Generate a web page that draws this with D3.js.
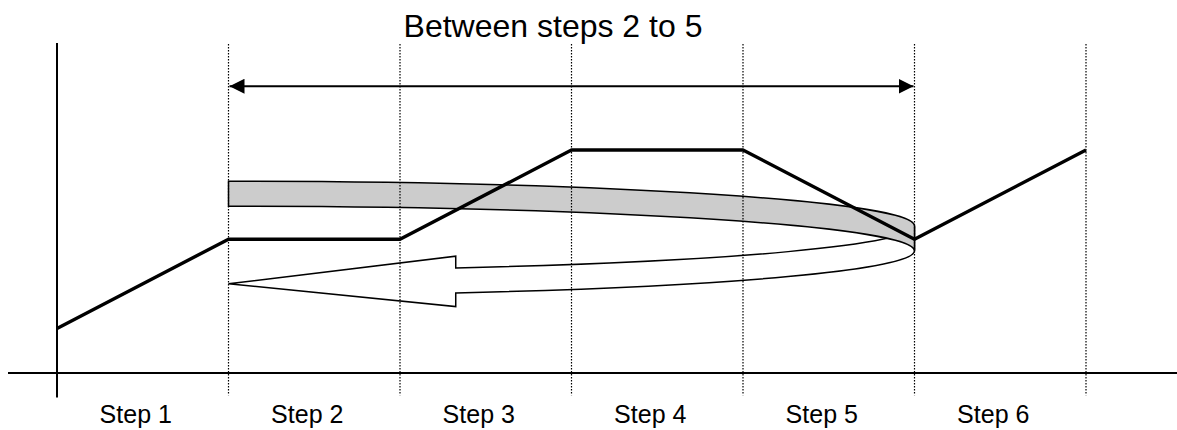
<!DOCTYPE html>
<html>
<head>
<meta charset="utf-8">
<script src="https://cdn.jsdelivr.net/npm/d3@7"></script>
<style>
  body { margin: 0; background: #fff; }
  text { font-family: "Liberation Sans", Arial, sans-serif; fill: #000; }
</style>
</head>
<body>
<div class="chart-section"></div>
<script>
// step labels along the bottom, one per interval
const steps = ["Step 1", "Step 2", "Step 3", "Step 4", "Step 5", "Step 6"];
// boundary index of each point on the thick line
const lineX = [0, 1, 2, 3, 4, 5, 6];
// level of the line at each boundary
const lineY = [1, 3, 3, 5, 5, 3, 5];
// dotted boundaries
const boundaries = [1, 2, 3, 4, 5, 6];
// span marked by the double arrow
const span = [1, 5];
const title = "Between steps 2 to 5";

const width = 1177;
const height = 430;

const x = d3.scaleLinear().domain([0, 6]).range([57, 1086]);
const y = d3.scaleLinear().domain([0, 7.4]).range([373, 43]);

const svg = d3
  .select(".chart-section")
  .append("svg")
  .attr("width", width)
  .attr("height", height)
  .attr("viewBox", [0, 0, width, height]);

const defs = svg.append("defs");
["start", "end"].forEach((k) => {
  defs
    .append("marker")
    .attr("id", "head-" + k)
    .attr("viewBox", "0 0 10 10")
    .attr("refX", 10)
    .attr("refY", 5)
    .attr("markerUnits", "userSpaceOnUse")
    .attr("markerWidth", 15)
    .attr("markerHeight", 15)
    .attr("orient", k === "start" ? "auto-start-reverse" : "auto")
    .append("path")
    .attr("d", "M0,0L10,5L0,10Z")
    .attr("fill", "#000");
});

// curved return arrow (two ellipses, white front, grey back)
const cx = x(span[0]);
const rx = x(span[1]) - x(span[0]);
const cyA = y(3.3);
const cyB = y(2.74);
const ry = y(0) - y(1);
const headX = x(2.325);
const u = (headX - cx) / rx;
const s = Math.sqrt(1 - u * u);

const front = [
  `M${cx},${y(2.0)}`,
  `L${headX},${y(2.62)}`,
  `L${headX},${cyA + ry * s}`,
  `A${rx},${ry} 0 0 0 ${cx + rx},${cyA}`,
  `L${cx + rx},${cyB}`,
  `A${rx},${ry} 0 0 1 ${headX},${cyB + ry * s}`,
  `L${headX},${y(1.49)}`,
  "Z",
].join("");

svg
  .append("path")
  .attr("d", front)
  .attr("fill", "#fff")
  .attr("stroke", "#000")
  .attr("stroke-width", 1.5)
  .attr("stroke-linejoin", "miter");

const back = [
  `M${cx},${cyA - ry}`,
  `A${rx},${ry} 0 0 1 ${cx + rx},${cyA}`,
  `L${cx + rx},${cyB}`,
  `A${rx},${ry} 0 0 0 ${cx},${cyB - ry}`,
  "Z",
].join("");

svg
  .append("path")
  .attr("d", back)
  .attr("fill", "#cccccc")
  .attr("stroke", "#000")
  .attr("stroke-width", 1.5);

// dotted boundaries
svg
  .append("g")
  .selectAll("line")
  .data(boundaries)
  .join("line")
  .attr("x1", (d) => x(d))
  .attr("x2", (d) => x(d))
  .attr("y1", y(7.38))
  .attr("y2", y(-0.5))
  .attr("stroke", "#000")
  .attr("stroke-width", 1.2)
  .attr("stroke-dasharray", "1.5,1.5");

// axes
svg
  .append("line")
  .attr("x1", x(0))
  .attr("x2", x(0))
  .attr("y1", y(7.4))
  .attr("y2", y(-0.55))
  .attr("stroke", "#000")
  .attr("stroke-width", 2);

svg
  .append("line")
  .attr("x1", 8)
  .attr("x2", width)
  .attr("y1", y(0))
  .attr("y2", y(0))
  .attr("stroke", "#000")
  .attr("stroke-width", 2);

// double arrow
svg
  .append("line")
  .attr("x1", x(span[0]) + 1)
  .attr("x2", x(span[1]) - 1)
  .attr("y1", y(6.43))
  .attr("y2", y(6.43))
  .attr("stroke", "#000")
  .attr("stroke-width", 2)
  .attr("marker-start", "url(#head-start)")
  .attr("marker-end", "url(#head-end)");

// thick line
const line = d3
  .line()
  .x((d, i) => x(lineX[i]))
  .y((d) => y(d));

svg
  .append("path")
  .datum(lineY)
  .attr("d", line)
  .attr("fill", "none")
  .attr("stroke", "#000")
  .attr("stroke-width", 3.4)
  .attr("stroke-linejoin", "round");

// labels
svg
  .append("g")
  .selectAll("text")
  .data(steps)
  .join("text")
  .attr("x", (d, i) => x(i + 0.5) - 7)
  .attr("y", 423)
  .attr("text-anchor", "middle")
  .attr("font-size", 25)
  .text((d) => d);

svg
  .append("text")
  .attr("x", 553)
  .attr("y", 37)
  .attr("text-anchor", "middle")
  .attr("font-size", 32)
  .text(title);
</script>
</body>
</html>
